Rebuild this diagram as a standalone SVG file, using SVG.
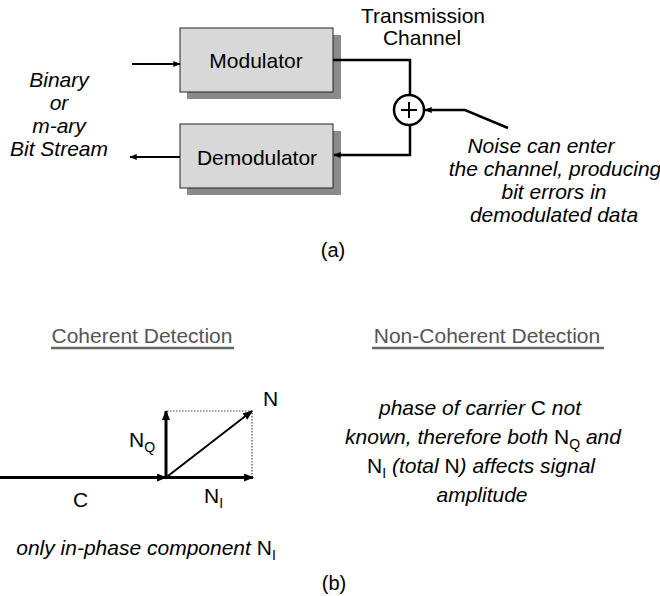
<svg xmlns="http://www.w3.org/2000/svg" width="660" height="596" viewBox="0 0 660 596">
<style>
text{font-family:"Liberation Sans",Arial,sans-serif;font-size:21px;fill:#000}
.it{font-style:italic}
.c{text-anchor:middle}
.sub{font-size:14px}
.head{fill:#555}
.box{fill:#d8d8d8;stroke:#222;stroke-width:1}
.shadow{fill:#8a8a8a}
.wire{fill:none;stroke:#000;stroke-width:2.5}
.thin{fill:none;stroke:#000;stroke-width:2}
.vec{fill:none;stroke:#000;stroke-width:3}
.dot{fill:none;stroke:#444;stroke-width:1.2;stroke-dasharray:1.5 1.5}
.ul{stroke:#666;stroke-width:2.5}
</style>
<defs>
<marker id="ah" viewBox="0 0 10 8" refX="9" refY="4" markerWidth="8" markerHeight="6" orient="auto" markerUnits="userSpaceOnUse"><path d="M0,0 L10,4 L0,8 z" fill="#000"/></marker>
<marker id="av" viewBox="0 0 10 8" refX="9" refY="4" markerWidth="10" markerHeight="8" orient="auto" markerUnits="userSpaceOnUse"><path d="M0,0 L10,4 L0,8 z" fill="#000"/></marker>
</defs>

<g id="modulator">
<rect class="shadow" x="187" y="35" width="154" height="64"/>
<rect class="box" x="180" y="28" width="153" height="64"/>
<text class="c" x="256" y="68">Modulator</text>
</g>
<g id="demodulator">
<rect class="shadow" x="187" y="131" width="154" height="64"/>
<rect class="box" x="180" y="124" width="153" height="64"/>
<text class="c" x="257" y="165">Demodulator</text>
</g>
<g id="summer">
<circle cx="409" cy="110" r="15" fill="#fff" stroke="#000" stroke-width="2.5"/>
<path d="M409,102 V118 M401,110 H417" stroke="#000" stroke-width="2"/>
</g>
<g id="channel-label">
<text class="c" x="423" y="23">Transmission</text>
<text class="c" x="422" y="45">Channel</text>
</g>
<g id="bitstream-label">
<text class="c it" x="59" y="87">Binary</text>
<text class="c it" x="59" y="110">or</text>
<text class="c it" x="59" y="133">m-ary</text>
<text class="c it" x="59" y="156">Bit Stream</text>
</g>
<g id="noise-label">
<text class="c it" x="541" y="153">Noise can enter</text>
<text class="c it" x="555" y="176">the channel, producing</text>
<text class="c it" x="554" y="199">bit errors in</text>
<text class="c it" x="554" y="222">demodulated data</text>
</g>
<g id="label-a"><text class="c" x="333" y="257" style="font-size:20px">(a)</text></g>

<g id="connectors">
<line class="thin" x1="132" y1="64" x2="180" y2="64" marker-end="url(#ah)"/>
<path class="wire" d="M333,60 H410 V95"/>
<path class="wire" d="M410,125 V155 H334" marker-end="url(#ah)"/>
<line class="thin" x1="180" y1="157" x2="130" y2="157" marker-end="url(#ah)"/>
<path class="wire" d="M508,128 L465,110 H425" marker-end="url(#ah)"/>
</g>

<g id="coherent-heading">
<text class="c head" x="142" y="343">Coherent Detection</text>
<line class="ul" x1="51" y1="348" x2="234" y2="348"/>
</g>
<g id="noncoherent-heading">
<text class="c head" x="487" y="343">Non-Coherent Detection</text>
<line class="ul" x1="372" y1="348" x2="604" y2="348"/>
</g>

<g id="phasor">
<path class="dot" d="M167,411 H252 V477"/>
<line class="vec" x1="0" y1="477.5" x2="166" y2="477.5" marker-end="url(#av)"/>
<line class="vec" x1="166" y1="477.5" x2="166" y2="411" marker-end="url(#av)"/>
<line class="vec" x1="166" y1="477.5" x2="253" y2="477.5" marker-end="url(#av)"/>
<line class="thin" x1="166" y1="477.5" x2="252" y2="411" marker-end="url(#av)"/>
<text x="263" y="406">N</text>
<text x="73" y="507">C</text>
<text x="129" y="447">N<tspan class="sub" dy="5">Q</tspan></text>
<text x="204" y="503">N<tspan class="sub" dy="5">I</tspan></text>
</g>
<g id="coherent-note">
<text class="c" x="146" y="555"><tspan class="it">only in-phase component </tspan>N<tspan class="sub" dy="5">I</tspan></text>
</g>
<g id="noncoherent-note">
<text class="c" x="480" y="415"><tspan class="it">phase of carrier </tspan>C<tspan class="it"> not</tspan></text>
<text class="c" x="483" y="444"><tspan class="it">known, therefore both </tspan>N<tspan class="sub" dy="5">Q</tspan><tspan class="it" dy="-5"> and</tspan></text>
<text class="c" x="481" y="473">N<tspan class="sub" dy="5">I</tspan><tspan class="it" dy="-5"> (total </tspan>N<tspan class="it">) affects signal</tspan></text>
<text class="c it" x="482" y="502">amplitude</text>
</g>
<g id="label-b"><text class="c" x="334" y="590" style="font-size:20px">(b)</text></g>
</svg>
